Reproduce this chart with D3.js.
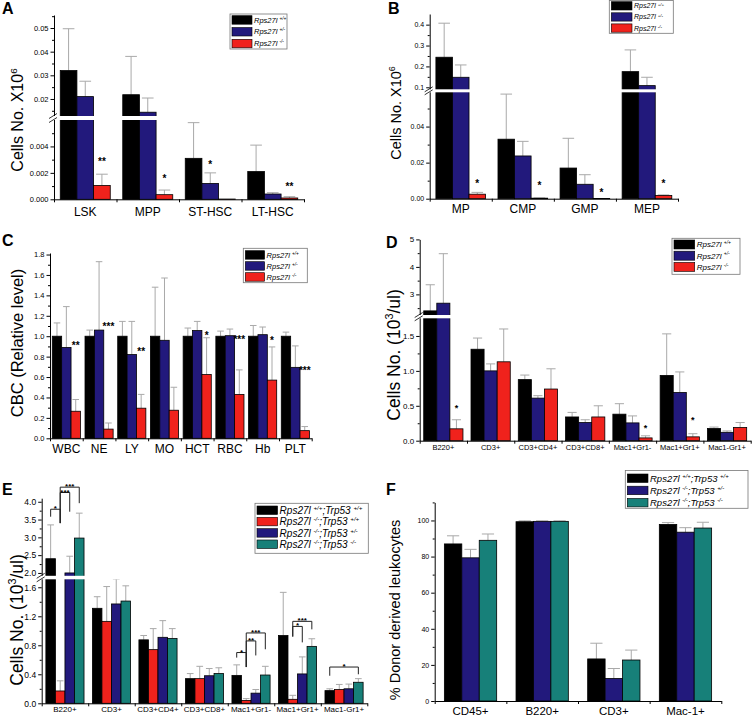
<!DOCTYPE html>
<html>
<head>
<meta charset="utf-8">
<script src="https://cdn.jsdelivr.net/npm/d3@7"></script>
<style>
  body { margin: 0; background: #fff; }
</style>
</head>
<body>
<div id="wrapper"></div>
<script>
// ---- data ----
// A: stem / progenitor cells (x10^6)
const catsA = ["LSK", "MPP", "ST-HSC", "LT-HSC"];
const wtA = [0.032, 0.0218, 0.0031, 0.0021];
const wtA_sd = [0.0177, 0.0162, 0.0027, 0.0020];
const hetA = [0.021, 0.0144, 0.0012, 0.0004];
const hetA_sd = [0.0065, 0.0060, 0.0008, 0.0001];
const koA = [0.00105, 0.00035, 0.00002, 0.0001];
const koA_sd = [0.00085, 0.00035, 0, 0.0001];
const starsA = [["LSK", 2, 0.0030, "**"], ["MPP", 2, 0.00176, "*"], ["ST-HSC", 1, 0.00276, "*"], ["LT-HSC", 2, 0.00115, "**"]];
const ticksA = [0, 0.002, 0.004, 0.02, 0.03, 0.04, 0.05];
const minorA = [0.001, 0.003, 0.005, 0.015, 0.025, 0.035, 0.045, 0.055];

// B: myeloid progenitors (x10^6)
const catsB = ["MP", "CMP", "GMP", "MEP"];
const wtB = [0.244, 0.033, 0.017, 0.175];
const wtB_sd = [0.163, 0.025, 0.0165, 0.104];
const hetB = [0.148, 0.0237, 0.008, 0.108];
const hetB_sd = [0.059, 0.0081, 0.0053, 0.040];
const koB = [0.0025, 0.0003, 0.0001, 0.0018];
const koB_sd = [0.001, 0.0001, 0, 0.0003];
const starsB = [["MP", 2, 0.0094, "*"], ["CMP", 2, 0.0082, "*"], ["GMP", 2, 0.0048, "*"], ["MEP", 2, 0.0094, "*"]];
const ticksB = [0, 0.02, 0.04, 0.1, 0.2, 0.3, 0.4];
const minorB = [0.01, 0.03, 0.05, 0.15, 0.25, 0.35];

// C: CBC relative level
const catsC = ["WBC", "NE", "LY", "MO", "HCT", "RBC", "Hb", "PLT"];
const wtC = [1, 1, 1, 1, 1, 1, 1, 1];
const wtC_sd = [0.13, 0.06, 0.145, 0.48, 0.08, 0.05, 0.105, 0.04];
const hetC = [0.89, 1.06, 0.82, 0.96, 1.055, 1.005, 1.015, 0.695];
const hetC_sd = [0.40, 0.67, 0.325, 0.61, 0.09, 0.065, 0.075, 0.21];
const koC = [0.265, 0.09, 0.295, 0.275, 0.625, 0.43, 0.57, 0.075];
const koC_sd = [0.115, 0.06, 0.135, 0.225, 0.36, 0.24, 0.325, 0.04];
const starsC = [["WBC", 2, 0.93, "**"], ["NE", 2, 1.115, "***"], ["LY", 2, 0.874, "**"], ["HCT", 2, 1.03, "*"],
                ["RBC", 2, 0.99, "***"], ["Hb", 2, 0.98, "*"], ["PLT", 2, 0.685, "***"]];
const ticksC = d3.range(0, 1.81, 0.2);
const minorC = d3.range(0.1, 1.8, 0.2);

// D: peripheral blood (10^3/ul)
const catsD = ["B220+", "CD3+", "CD3+CD4+", "CD3+CD8+", "Mac1+Gr1-", "Mac1+Gr1+", "Mac1-Gr1+"];
const wtD = [2.4, 1.31, 0.875, 0.34, 0.38, 0.935, 0.175];
const wtD_sd = [0.95, 0.16, 0.065, 0.065, 0.15, 0.595, 0.02];
const hetD = [2.68, 1.0, 0.61, 0.26, 0.255, 0.69, 0.12];
const hetD_sd = [1.8, 0.1, 0.035, 0.04, 0.1, 0.295, 0.02];
const koD = [0.17, 1.13, 0.74, 0.34, 0.04, 0.055, 0.19];
const koD_sd = [0.13, 0.47, 0.29, 0.16, 0.03, 0.045, 0.07];
const starsD = [["B220+", 2, 0.5, "*"], ["Mac1+Gr1-", 2, 0.21, "*"], ["Mac1+Gr1+", 2, 0.33, "*"]];
const ticksD = [0, 0.5, 1.0, 1.5, 3, 4, 5];
const minorD = [0.25, 0.75, 1.25, 2.5, 3.5, 4.5];

// E: p53 rescue (10^3/ul)
const catsE = catsD;
const wtE = [2.4, 1.31, 0.875, 0.34, 0.385, 0.935, 0.175];
const wtE_sd = [0.95, 0.16, 0.06, 0.07, 0.145, 0.595, 0.025];
const koE = [0.17, 1.13, 0.74, 0.34, 0.04, 0.055, 0.19];
const koE_sd = [0.14, 0.48, 0.29, 0.17, 0.025, 0.055, 0.07];
const koHetE = [2.0, 1.37, 0.91, 0.38, 0.14, 0.405, 0.2];
const koHetE_sd = [0.47, 0.36, 0.23, 0.10, 0.05, 0.235, 0.065];
const koNullE = [2.98, 1.41, 0.895, 0.41, 0.39, 0.785, 0.29];
const koNullE_sd = [0.70, 0.21, 0.135, 0.08, 0.12, 0.105, 0.05];
// [category, from series, to series, bracket level, left leg end, right leg end, label]
const bracketsE = [
  ["B220+", 0, 1, 3.79, 3.58, 3.40, "*"],
  ["B220+", 1, 2, 4.26, 3.40, 3.72, "***"],
  ["B220+", 1, 3, 4.41, 3.40, 3.96, "***"],
  ["Mac1+Gr1-", 0, 1, 0.70, 0.63, 0.50, "*"],
  ["Mac1+Gr1-", 1, 2, 0.86, 0.50, 0.66, "**"],
  ["Mac1+Gr1-", 1, 3, 0.97, 0.50, 0.745, "***"],
  ["Mac1+Gr1+", 1, 2, 1.06, 0.92, 0.84, "*"],
  ["Mac1+Gr1+", 1, 3, 1.13, 0.92, 1.02, "***"],
  ["Mac1-Gr1+", 0, 3, 0.50, 0.38, 0.40, "*"]
];
const ticksE = [0, 0.4, 0.8, 1.2, 1.6, 2.0, 2.5, 3.0, 3.5, 4.0];
const minorE = [0.2, 0.6, 1.0, 1.4, 2.25, 2.75, 3.25, 3.75];

// F: donor derived leukocytes (%)
const catsF = ["CD45+", "B220+", "CD3+", "Mac-1+"];
const wtF = [87, 99.3, 23.3, 97.8];
const wtF_sd = [4.5, 0.5, 8.7, 1.0];
const koHetF = [79.3, 99.5, 12.5, 93.5];
const koHetF_sd = [4.7, 0.3, 5.5, 2.5];
const koNullF = [89, 99.5, 22.7, 95.8];
const koNullF_sd = [3.5, 0.3, 5.5, 3.2];
const ticksF = [0, 20, 40, 60, 80, 100];
const minorF = [10, 30, 50, 70, 90, 110];

// legend genotypes
const genoABCD = ["+/+", "+/-", "-/-"];
const genoE = [["+/+", "+/+"], ["-/-", "+/+"], ["-/-", "+/-"], ["-/-", "-/-"]];
const genoF = [["+/+", "+/+"], ["-/-", "+/-"], ["-/-", "-/-"]];

// ---- drawing ----
const FONT = "'Liberation Sans', Arial, Helvetica, sans-serif";
const cBlack = "#000000", cBlue = "#22197c", cRed = "#f0221c", cTeal = "#178079", cErr = "#a9a9a9";

const svg = d3.select("#wrapper").append("svg")
    .attr("width", 756).attr("height", 718)
    .attr("font-family", FONT);

// text with superscripts
function rich(sel, parts, fs) {
    let up = false;
    parts.forEach(p => {
        const t = sel.append("tspan").text(p.t);
        if (p.sup) {
            t.attr("font-size", fs * 0.62).attr("dy", -fs * 0.4);
            up = true;
        } else if (up) {
            t.attr("dy", fs * 0.4);
            up = false;
        }
    });
}

const rowsABCD = genoABCD.map(g => [{t: "Rps27l "}, {t: g, sup: true}]);
const rowsE = genoE.map(g => [{t: "Rps27l "}, {t: g[0], sup: true}, {t: ";Trp53 "}, {t: g[1], sup: true}]);
const rowsF = genoF.map(g => [{t: "Rps27l "}, {t: g[0], sup: true}, {t: ";Trp53 "}, {t: g[1], sup: true}]);

function drawPanel(p) {
    const g = svg.append("g");
    const y = d3.scaleLinear().domain(p.yDomain).range(p.yRange);
    const x = d3.scaleBand().domain(p.cats).range([p.x0, p.x1]);
    const bw = x.bandwidth();
    const sub = d3.scaleBand().domain(d3.range(p.series.length))
        .range([bw * (1 - p.groupFrac) / 2, bw * (1 + p.groupFrac) / 2]);
    const base = y(0);
    const cx = (c, si) => x(c) + sub(si) + sub.bandwidth() / 2;
    const capW = sub.bandwidth() * 0.35;

    // bars + error bars
    p.series.forEach((s, si) => {
        const rows = p.cats.map((c, i) => ({c: c, v: s.v[i], sd: s.sd[i]}));
        const sg = g.append("g");
        const eb = sg.selectAll("g").data(rows.filter(d => d.sd > 0)).join("g")
            .attr("stroke", cErr).attr("stroke-width", 1);
        eb.append("line")
            .attr("x1", d => cx(d.c, si)).attr("x2", d => cx(d.c, si))
            .attr("y1", d => y(d.v)).attr("y2", d => y(d.v + d.sd));
        eb.append("line")
            .attr("x1", d => cx(d.c, si) - capW).attr("x2", d => cx(d.c, si) + capW)
            .attr("y1", d => y(d.v + d.sd)).attr("y2", d => y(d.v + d.sd));
        sg.selectAll("rect").data(rows).join("rect")
            .attr("x", d => x(d.c) + sub(si))
            .attr("y", d => y(d.v))
            .attr("width", sub.bandwidth())
            .attr("height", d => base - y(d.v))
            .attr("fill", s.c)
            .attr("stroke", "#000").attr("stroke-width", 0.8);
    });

    // y axis
    const ax = g.append("g").attr("transform", `translate(${p.x0},0)`)
        .call(d3.axisLeft(y).tickValues(p.major).tickFormat(p.fmt).tickSize(3.5).tickSizeOuter(0).tickPadding(2));
    ax.attr("font-size", p.tickFs).attr("font-family", FONT);
    g.append("g").attr("transform", `translate(${p.x0},0)`)
        .call(d3.axisLeft(y).tickValues(p.minor).tickFormat("").tickSize(2))
        .call(a => a.select(".domain").remove());

    // x axis: boundary ticks + category labels
    const xl = d3.scaleLinear().domain([0, p.cats.length]).range([p.x0, p.x1]);
    g.append("g").attr("transform", `translate(0,${base})`)
        .call(d3.axisBottom(xl).tickValues(d3.range(p.cats.length + 1)).tickFormat("").tickSize(3).tickSizeOuter(0));
    g.append("g").attr("transform", `translate(0,${base})`)
        .call(d3.axisBottom(x).tickSize(0).tickPadding(p.xPad))
        .call(a => a.select(".domain").remove())
        .attr("font-size", p.xFs).attr("font-family", FONT);

    // axis break
    if (p.yDomain.length > 2) {
        const gt = y(p.yDomain[2]), gb = y(p.yDomain[1]);
        g.append("rect").attr("x", p.x0 - 1).attr("y", gt)
            .attr("width", p.x1 - p.x0 + 1).attr("height", gb - gt).attr("fill", "#fff");
        [gt, gb].forEach(e => g.append("line")
            .attr("x1", p.x0 - 5).attr("y1", e + 2.5).attr("x2", p.x0 + 3).attr("y2", e - 2.5)
            .attr("stroke", "#000").attr("stroke-width", 0.8));
    }

    // significance stars
    if (p.stars) {
        g.append("g").selectAll("text").data(p.stars).join("text")
            .attr("x", d => cx(d[0], d[1]))
            .attr("y", d => y(d[2]) + p.starFs * 0.55)
            .attr("text-anchor", "middle").attr("font-size", p.starFs).attr("font-weight", "bold")
            .text(d => d[3]);
    }

    // brackets
    if (p.brackets) {
        const bg = g.append("g");
        bg.selectAll("path").data(p.brackets).join("path")
            .attr("d", d => `M${cx(d[0], d[1])},${y(d[4])}V${y(d[3])}H${cx(d[0], d[2])}V${y(d[5])}`)
            .attr("fill", "none").attr("stroke", "#222").attr("stroke-width", 1);
        bg.selectAll("text").data(p.brackets).join("text")
            .attr("x", d => (cx(d[0], d[1]) + cx(d[0], d[2])) / 2)
            .attr("y", d => y(d[3]) + 2)
            .attr("text-anchor", "middle").attr("font-size", p.starFs).attr("font-weight", "bold")
            .text(d => d[6]);
    }

    // y label
    const yl = g.append("text")
        .attr("transform", `translate(${p.ylabX},${p.ylabY}) rotate(-90)`)
        .attr("text-anchor", "middle").attr("font-size", p.ylabFs);
    rich(yl, p.ylab, p.ylabFs);

    // panel letter
    g.append("text").attr("x", p.letterX).attr("y", p.letterY)
        .attr("font-size", 16).attr("font-weight", "bold").text(p.letter);

    // legend
    const L = p.legend;
    const lg = g.append("g");
    lg.append("rect").attr("x", L.x).attr("y", L.y).attr("width", L.w).attr("height", L.h)
        .attr("fill", "#fff").attr("stroke", "#777").attr("stroke-width", 0.8);
    L.rows.forEach((parts, i) => {
        const top = L.y + L.top + i * L.step;
        lg.append("rect").attr("x", L.x + 2).attr("y", top).attr("width", L.sw).attr("height", L.sh)
            .attr("fill", p.series[i].c).attr("stroke", "#000").attr("stroke-width", 0.6);
        const t = lg.append("text").attr("x", L.x + L.sw + 4).attr("y", top + L.sh / 2 + L.fs * 0.36)
            .attr("font-size", L.fs).attr("font-style", "italic");
        rich(t, parts, L.fs);
    });
}

const fmtA = v => v < 0.01 ? d3.format(".3f")(v) : d3.format(".2f")(v);
const fmtB = v => v < 0.05 ? d3.format(".2f")(v) : d3.format(".1f")(v);
const fmtD = v => v < 2 ? d3.format(".1f")(v) : d3.format("d")(v);

drawPanel({
    letter: "A", letterX: 2, letterY: 14,
    cats: catsA,
    series: [{v: wtA, sd: wtA_sd, c: cBlack}, {v: hetA, sd: hetA_sd, c: cBlue}, {v: koA, sd: koA_sd, c: cRed}],
    x0: 54, x1: 304, groupFrac: 0.8,
    yDomain: [0, 0.006, 0.0128, 0.0555], yRange: [199.3, 120, 116, 15],
    major: ticksA, minor: minorA, fmt: fmtA, tickFs: 7.5,
    xFs: 12, xPad: 8,
    ylab: [{t: "Cells No. X10"}, {t: "6", sup: true}], ylabX: 23, ylabY: 120, ylabFs: 16,
    stars: starsA, starFs: 10,
    legend: {x: 230, y: 14, w: 57, h: 35, top: 1.7, step: 11.8, sw: 20, sh: 8.5, fs: 7.5, rows: rowsABCD}
});

drawPanel({
    letter: "B", letterX: 388, letterY: 14,
    cats: catsB,
    series: [{v: wtB, sd: wtB_sd, c: cBlack}, {v: hetB, sd: hetB_sd, c: cBlue}, {v: koB, sd: koB_sd, c: cRed}],
    x0: 429.7, x1: 678, groupFrac: 0.8,
    yDomain: [0, 0.059, 0.0904, 0.451], yRange: [198.7, 92.3, 89.3, 14],
    major: ticksB, minor: minorB, fmt: fmtB, tickFs: 7,
    xFs: 12, xPad: 6,
    ylab: [{t: "Cells No. X10"}, {t: "6", sup: true}], ylabX: 400.5, ylabY: 113, ylabFs: 14.5,
    stars: starsB, starFs: 10,
    legend: {x: 609.3, y: 0.5, w: 64, h: 32.8, top: 1.2, step: 11.1, sw: 20.7, sh: 8.3, fs: 7, rows: rowsABCD}
});

drawPanel({
    letter: "C", letterX: 2, letterY: 246,
    cats: catsC,
    series: [{v: wtC, sd: wtC_sd, c: cBlack}, {v: hetC, sd: hetC_sd, c: cBlue}, {v: koC, sd: koC_sd, c: cRed}],
    x0: 50, x1: 311.7, groupFrac: 0.86,
    yDomain: [0, 1.815], yRange: [438.3, 253],
    major: ticksC, minor: minorC, fmt: d3.format(".1f"), tickFs: 7.5,
    xFs: 12, xPad: 6.5,
    ylab: [{t: "CBC (Relative level)"}], ylabX: 23, ylabY: 343, ylabFs: 16.5,
    stars: starsC, starFs: 10,
    legend: {x: 243.3, y: 248.3, w: 64, h: 34.4, top: 2.4, step: 11, sw: 19.3, sh: 8.5, fs: 7.5, rows: rowsABCD}
});

drawPanel({
    letter: "D", letterX: 386, letterY: 248,
    cats: catsD,
    series: [{v: wtD, sd: wtD_sd, c: cBlack}, {v: hetD, sd: hetD_sd, c: cBlue}, {v: koD, sd: koD_sd, c: cRed}],
    x0: 419.7, x1: 750.7, groupFrac: 0.83,
    yDomain: [0, 1.753, 2.25, 5.0], yRange: [440.7, 318.3, 315, 239.4],
    major: ticksD, minor: minorD, fmt: fmtD, tickFs: 8,
    xFs: 7.5, xPad: 3.7,
    ylab: [{t: "Cells No. (10"}, {t: "3", sup: true}, {t: "/ul)"}], ylabX: 400, ylabY: 355, ylabFs: 17.5,
    stars: starsD, starFs: 9,
    legend: {x: 672, y: 238.3, w: 68, h: 36, top: 1.7, step: 11.2, sw: 20.7, sh: 9, fs: 8, rows: rowsABCD}
});

drawPanel({
    letter: "E", letterX: 2, letterY: 495,
    cats: catsE,
    series: [{v: wtE, sd: wtE_sd, c: cBlack}, {v: koE, sd: koE_sd, c: cRed},
             {v: koHetE, sd: koHetE_sd, c: cBlue}, {v: koNullE, sd: koNullE_sd, c: cTeal}],
    x0: 41.7, x1: 367.3, groupFrac: 0.82,
    yDomain: [0, 1.71, 1.92, 4.1], yRange: [703.3, 579.3, 575.8, 498.2],
    major: ticksE, minor: minorE, fmt: d3.format(".1f"), tickFs: 8.5,
    xFs: 8, xPad: 2.8,
    ylab: [{t: "Cells No. (10"}, {t: "3", sup: true}, {t: "/ul)"}], ylabX: 23, ylabY: 620, ylabFs: 17.5,
    brackets: bracketsE, starFs: 8,
    legend: {x: 255, y: 503.3, w: 113.3, h: 50, top: 2.7, step: 11.33, sw: 20.6, sh: 8.5, fs: 10, rows: rowsE}
});

drawPanel({
    letter: "F", letterX: 386, letterY: 495,
    cats: catsF,
    series: [{v: wtF, sd: wtF_sd, c: cBlack}, {v: koHetF, sd: koHetF_sd, c: cBlue}, {v: koNullF, sd: koNullF_sd, c: cTeal}],
    x0: 434.7, x1: 721.3, groupFrac: 0.73,
    yDomain: [0, 110], yRange: [701, 502.4],
    major: ticksF, minor: minorF, fmt: d3.format("d"), tickFs: 7,
    xFs: 11.5, xPad: 5.8,
    ylab: [{t: "% Donor derived leukocytes"}], ylabX: 400, ylabY: 610, ylabFs: 14.5,
    legend: {x: 625.3, y: 470.5, w: 122.7, h: 37.8, top: 3.5, step: 12.2, sw: 20.7, sh: 8.5, fs: 9.5, rows: rowsF}
});
</script>
</body>
</html>
